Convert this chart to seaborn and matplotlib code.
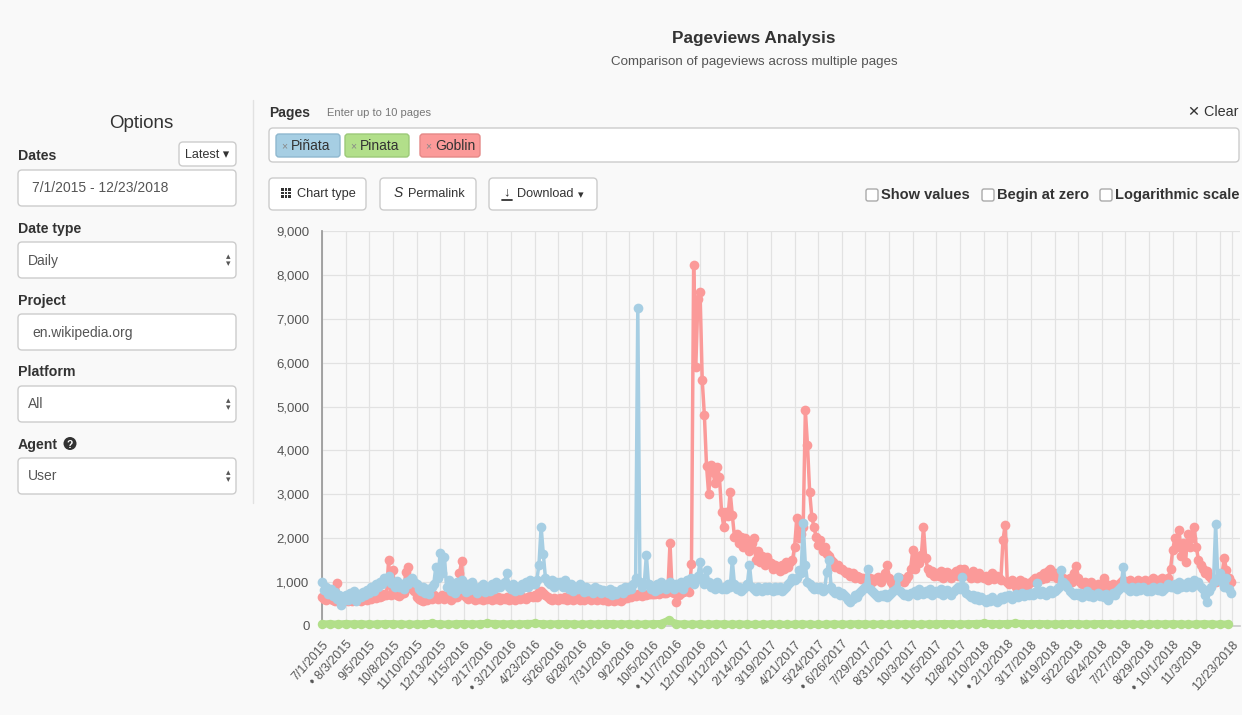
import numpy as np
import pandas as pd
import matplotlib
matplotlib.use("Agg")
import matplotlib.pyplot as plt
import seaborn as sns
from matplotlib.patches import FancyBboxPatch, Rectangle, Circle
from matplotlib.lines import Line2D

# ---------------- data (3-day samples from 7/1/2015) ----------------
start_date = "2015-07-01"

pinata_tilde_views = [
    1000, 820, 900, 720, 850, 680, 780, 620, 700, 480, 560,
    700, 600, 760, 640, 800, 560, 720, 650, 780, 700, 820,
    760, 880, 800, 950, 900, 1000, 950, 1100, 1050, 1150, 980,
    1000, 900, 1020, 880, 950, 850, 1000, 950, 1050, 1090, 1000,
    950, 850, 800, 900, 760, 850, 720, 880, 950, 1350, 1100,
    1660, 1200, 1580, 900, 1050, 800, 950, 750, 1000, 850, 1050,
    900, 780, 950, 820, 1000, 850, 750, 900, 820, 950, 780,
    900, 800, 950, 850, 1000, 900, 880, 950, 1000, 1210, 900,
    850, 950, 800, 900, 820, 950, 880, 1000, 900, 1050, 950,
    950, 1050, 1400, 2260, 1650, 1100, 1000, 950, 1050, 900, 1000,
    950, 1000, 880, 1050, 900, 850, 950, 800, 900, 850, 950,
    850, 780, 900, 800, 850, 750, 880, 800, 850, 760, 820,
    800, 750, 850, 700, 800, 720, 780, 850, 750, 900, 820,
    900, 850, 950, 1100, 7250, 1000, 900, 950, 1620, 950, 850,
    900, 800, 950, 850, 1000, 900, 850, 950, 1000, 900, 850,
    950, 900, 1000, 850, 950, 1050, 1000, 1100, 950, 1050, 1150,
    1460, 1100, 950, 1280, 1000, 900, 950, 850, 1000, 900, 850,
    900, 850, 950, 880, 1500, 950, 850, 900, 800, 850, 900,
    950, 1390, 900, 850, 800, 900, 850, 800, 880, 820, 900,
    850, 800, 900, 820, 880, 800, 850, 900, 950, 1000, 1100,
    1050, 1100, 1280, 1200, 2340, 1390, 1000, 950, 900, 850, 900,
    850, 900, 800, 850, 1240, 1500, 900, 800, 750, 800, 700,
    750, 700, 650, 600, 550, 620, 700, 650, 750, 800, 850,
    900, 1310, 850, 800, 750, 700, 650, 700, 680, 720, 650,
    700, 750, 800, 850, 1120, 800, 750, 700, 720, 680, 750,
    750, 800, 700, 850, 780, 720, 800, 750, 850, 700, 780,
    800, 750, 850, 700, 780, 820, 750, 700, 800, 850, 900,
    850, 1120, 900, 750, 700, 650, 700, 620, 680, 600, 650,
    600, 550, 620, 580, 650, 600, 550, 600, 650, 620, 680,
    650, 700, 620, 680, 720, 650, 700, 750, 680, 720, 700,
    750, 700, 780, 980, 720, 800, 750, 700, 780, 820, 750,
    800, 850, 900, 1280, 1000, 950, 880, 800, 750, 700, 750,
    700, 750, 650, 700, 800, 680, 720, 650, 700, 750, 680,
    700, 650, 720, 600, 680, 750, 700, 800, 850, 900, 1350,
    900, 850, 800, 900, 850, 800, 880, 820, 900, 850, 800,
    850, 800, 900, 850, 820, 880, 800, 850, 900, 950, 880,
    900, 950, 850, 1000, 900, 950, 880, 1000, 950, 900, 1050,
    950, 1000, 900, 850, 700, 550, 800, 900, 1000, 2320, 1100,
    1200, 1000, 900, 1100, 850, 750,
]

goblin_views = [
    650, 620, 600, 640, 620, 600, 580, 980, 620, 560, 600,
    600, 560, 620, 580, 640, 600, 620, 580, 650, 620, 600,
    650, 620, 680, 640, 700, 650, 680, 720, 700, 1500, 700,
    1280, 750, 700, 680, 720, 750, 1240, 1350, 900, 850, 800,
    650, 620, 600, 580, 640, 600, 650, 620, 700, 650, 620,
    650, 700, 620, 680, 650, 600, 700, 650, 650, 1200, 1480,
    700, 650, 620, 680, 640, 600, 660, 620, 650, 600, 640,
    620, 650, 600, 640, 620, 660, 600, 640, 620, 650, 600,
    620, 650, 600, 640, 620, 660, 640, 620, 650, 680, 650,
    700, 650, 780, 800, 750, 700, 650, 620, 600, 640, 620,
    600, 640, 620, 650, 600, 620, 640, 600, 620, 650, 600,
    620, 600, 650, 630, 600, 640, 620, 600, 650, 620, 600,
    600, 580, 620, 600, 580, 620, 600, 580, 620, 650, 640,
    680, 650, 700, 680, 720, 700, 680, 720, 700, 740, 720,
    740, 720, 760, 740, 780, 750, 760, 800, 1890, 780, 750,
    550, 700, 750, 780, 800, 820, 780, 1410, 8220, 5900, 7450,
    7600, 5600, 4800, 3650, 3000, 3670, 3500, 3250, 3630, 3400, 2600,
    2260, 2600, 2500, 3060, 2530, 2030, 2100, 1900, 2030, 1800, 2000,
    1800, 1700, 1900, 2000, 1500, 1700, 1450, 1600, 1400, 1580, 1450,
    1430, 1300, 1400, 1350, 1250, 1400, 1300, 1450, 1350, 1460, 1500,
    1800, 2450, 2000, 2100, 2260, 4920, 4120, 3060, 2490, 2260, 2030,
    1850, 1950, 1700, 1800, 1650, 1600, 1500, 1450, 1350, 1400, 1300,
    1300, 1250, 1200, 1240, 1150, 1200, 1100, 1150, 1120, 1080, 1100,
    1080, 1050, 1100, 1000, 1080, 1050, 1120, 1000, 1100, 1200, 1390,
    1100, 1000, 930, 1050, 1000, 1100, 1050, 1000, 1080, 1150, 1300,
    1730, 1300, 1580, 1430, 1620, 2260, 1540, 1300, 1200, 1250, 1150,
    1200, 1150, 1250, 1100, 1200, 1240, 1150, 1100, 1200, 1250, 1150,
    1300, 1250, 1310, 1200, 1150, 1100, 1250, 1150, 1100, 1200, 1150,
    1100, 1150, 1050, 1100, 1200, 1080, 1150, 1100, 1050, 1960, 2300,
    1000, 950, 1050, 1000, 900, 980, 1050, 950, 1000, 920, 980,
    1000, 1050, 1100, 1000, 1150, 1080, 1200, 1100, 1250, 1310, 1150,
    1200, 1100, 1150, 1050, 1100, 1000, 1050, 1100, 1000, 1200, 1370,
    1100, 1000, 950, 1000, 900, 950, 1000, 900, 850, 950, 900,
    900, 1090, 950, 900, 850, 950, 900, 880, 950, 1000, 1050,
    1000, 950, 1050, 1000, 950, 1000, 1050, 1000, 950, 1050, 1000,
    1000, 1050, 1100, 1000, 1050, 1000, 1100, 1050, 1000, 1100, 1300,
    1730, 2000, 1800, 2190, 1600, 1900, 1460, 2100, 1800, 2000, 2260,
    1800, 1500, 1400, 1300, 1200, 1250, 1150, 1100, 1050, 1000, 1100,
    1100, 1200, 1540, 1280, 1100, 1000,
]

# "Pinata" (no tilde), sampled every 11 days
pinata_plain_views = [
    45, 50, 40, 55, 45, 50, 40, 45, 55, 50, 45, 40,
    45, 50, 60, 45, 40, 50, 55, 45, 50, 60, 55, 45,
    50, 45, 55, 60, 50, 45, 50, 55, 45, 40, 50, 45,
    55, 50, 45, 50, 40, 45, 50, 55, 130, 50, 45, 40,
    45, 40, 50, 45, 40, 45, 40, 35, 40, 45, 40, 35,
    40, 45, 40, 35, 40, 45, 40, 45, 50, 45, 40, 45,
    40, 45, 50, 45, 40, 45, 50, 55, 50, 45, 50, 55,
    60, 55, 50, 55, 60, 55, 50, 55, 50, 45, 50, 55,
    50, 45, 50, 55, 50, 45, 50, 45, 40, 45, 50, 45,
    50, 45, 40, 45, 50, 45, 40, 45,
]

page_names = ["Piñata", "Pinata", "Goblin"]

x_tick_labels = [
    "7/1/2015", "• 8/3/2015", "9/5/2015", "10/8/2015", "11/10/2015", "12/13/2015",
    "1/15/2016", "2/17/2016", "• 3/21/2016", "4/23/2016", "5/26/2016", "6/28/2016",
    "7/31/2016", "9/2/2016", "10/5/2016", "• 11/7/2016", "12/10/2016", "1/12/2017",
    "2/14/2017", "3/19/2017", "4/21/2017", "5/24/2017", "• 6/26/2017", "7/29/2017",
    "8/31/2017", "10/3/2017", "11/5/2017", "12/8/2017", "1/10/2018", "• 2/12/2018",
    "3/17/2018", "4/19/2018", "5/22/2018", "6/24/2018", "7/27/2018", "8/29/2018",
    "• 10/1/2018", "11/3/2018", "12/23/2018",
]
y_ticks = [0, 1000, 2000, 3000, 4000, 5000, 6000, 7000, 8000, 9000]

# ---------------- style ----------------
W, H = 1242, 715
BG = "#f9f9f9"
BLUE = "#a6cee3"
GREEN = "#b2df8a"
RED = "#fb9a99"
TXT = "#333333"

sns.set_theme(style="white")
plt.rcParams["font.family"] = ["Liberation Sans", "DejaVu Sans"]

fig = plt.figure(figsize=(W / 100, H / 100), dpi=100, facecolor=BG)
T = fig.dpi_scale_trans  # inches; 1 px = 0.01 in


def P(x, y):
    return (x / 100.0, (H - y) / 100.0)


def text(x, y, s, **kw):
    kw.setdefault("color", TXT)
    kw.setdefault("va", "center")
    kw.setdefault("ha", "left")
    fig.text(x / W, 1 - (y + 1.5) / H, s, **kw)


def rbox(x0, y0, x1, y1, fc="white", ec="#cccccc", r=4, lw=1.0):
    p = FancyBboxPatch(P(x0, y1), (x1 - x0) / 100.0, (y1 - y0) / 100.0,
                       boxstyle=f"round,pad=0,rounding_size={r/100.0}",
                       transform=T, fc=fc, ec=ec, lw=lw)
    fig.patches.append(p)


def hline(x0, x1, y, color="#dddddd", lw=1.0):
    fig.lines.append(Line2D([x0 / 100, x1 / 100], [(H - y) / 100] * 2, transform=T, color=color, lw=lw))


def vline(x, y0, y1, color="#dddddd", lw=1.0):
    fig.lines.append(Line2D([x / 100] * 2, [(H - y0) / 100, (H - y1) / 100], transform=T, color=color, lw=lw))


# ---------------- header ----------------
text(754, 37, "Pageviews Analysis", ha="center", fontsize=12.4, weight="bold")
text(754, 61, "Comparison of pageviews across multiple pages", ha="center", fontsize=9.6, color="#555555")

# ---------------- left options panel ----------------
text(141, 122, "Options", ha="center", fontsize=13.5)
labels_y = [("Dates", 155), ("Date type", 227), ("Project", 299), ("Platform", 371), ("Agent", 443)]
for s, y in labels_y:
    text(18, y, s, fontsize=10.2, weight="bold")
# help icon next to Agent
fig.patches.append(Circle(P(70, 443.5), 0.065, transform=T, fc="#333333", ec="none"))
text(70, 443, "?", ha="center", fontsize=7.5, weight="bold", color="white")

rbox(179, 142, 236, 166)
text(207, 153, "Latest ▾", ha="center", fontsize=9)

inputs = [(170, "7/1/2015 - 12/23/2018", False, 32),
          (242, "Daily", True, 28),
          (314, "en.wikipedia.org", False, 32),
          (386, "All", True, 28),
          (458, "User", True, 28)]
for y0, s, sel, tx in inputs:
    rbox(18, y0, 236, y0 + 36)
    text(tx, y0 + 17, s, fontsize=10, color="#555555")
    if sel:
        text(228, y0 + 16.5, "▴\n▾", ha="center", fontsize=6.5, color="#555555", linespacing=0.75)

vline(253, 100, 503, color="#e2e2e2")

# ---------------- pages selector ----------------
text(269, 111, "Pages", fontsize=10, weight="bold")
text(327, 112, "Enter up to 10 pages", fontsize=8, color="#777777")
text(1239, 111, "✕ Clear", ha="right", fontsize=10.4)
rbox(269, 128, 1239, 162)
tag_specs = [(276, 340, BLUE, "#8fb8cf"), (345, 409, GREEN, "#9cc978"), (420, 480, RED, "#e58887")]
for (x0, x1, fc, ec), name in zip(tag_specs, page_names):
    rbox(x0, 134, x1, 157, fc=fc, ec=ec, r=3)
    text(x0 + 5, 144.5, "×", fontsize=7.5, color="#888888")
    text(x0 + 15, 144.5, name, fontsize=10, color="#333333")

# ---------------- buttons ----------------
rbox(269, 178, 366, 210)
for i in range(3):
    for j in range(3):
        fig.patches.append(Rectangle(P(281 + 3.6 * i, 198 - 3.6 * j), 0.026, 0.026, transform=T, fc="#333333", ec="none"))
text(297, 192.5, "Chart type", fontsize=9.2)
rbox(380, 178, 476, 210)
text(398, 191.5, "S", ha="center", fontsize=10, style="italic", color="#333333")
text(408, 192.5, "Permalink", fontsize=9.2)
rbox(489, 178, 597, 210)
text(507, 190.5, "↓", ha="center", fontsize=9.5, weight="bold")
hline(502, 512, 199.5, color="#333333", lw=1.3)
text(517, 192.5, "Download", fontsize=9.2)
text(581, 193.5, "▾", ha="center", fontsize=8)

checks = [(866, "Show values"), (982, "Begin at zero"), (1100, "Logarithmic scale")]
for x0, s in checks:
    rbox(x0, 189, x0 + 12, 201, fc="white", ec="#aaaaaa", r=2)
    text(x0 + 15, 193.5, s, fontsize=10.5, weight="bold")

# ---------------- chart ----------------
ax_left, ax_right, ax_top, ax_bottom = 322, 1240, 231, 626
ax = fig.add_axes([ax_left / W, 1 - ax_bottom / H, (ax_right - ax_left) / W, (ax_bottom - ax_top) / H])
ax.set_facecolor("none")

dates3 = pd.date_range(start_date, periods=len(pinata_tilde_views), freq="3D")
dates3b = pd.date_range(start_date, periods=len(goblin_views), freq="3D")
dates11 = pd.date_range(start_date, periods=len(pinata_plain_views), freq="11D")

line_kw = dict(marker="o", markeredgewidth=0, clip_on=False)
sns.lineplot(x=dates3b, y=goblin_views, ax=ax, color=RED, zorder=3,
             markersize=7.0, linewidth=2.5, **line_kw)
sns.lineplot(x=dates11, y=pinata_plain_views, ax=ax, color=GREEN, zorder=4,
             markersize=6.8, linewidth=5.2, **line_kw)
sns.lineplot(x=dates3, y=pinata_tilde_views, ax=ax, color=BLUE, zorder=5,
             markersize=7.0, linewidth=2.5, **line_kw)

tick_dates = [pd.Timestamp(pd.to_datetime(s.replace("• ", ""), format="%m/%d/%Y")) for s in x_tick_labels]
extra_grid = pd.Timestamp("2018-12-06")
ax.set_xlim(pd.Timestamp(start_date), pd.Timestamp("2018-12-23") + pd.Timedelta(days=11))
ax.set_ylim(0, 9000)
ax.set_xticks(tick_dates)
ax.set_xticklabels(x_tick_labels, rotation=48, ha="right", rotation_mode="anchor",
                   fontsize=8.9, color="#555555")
ax.set_xticks([extra_grid], minor=True)
ax.set_yticks(y_ticks)
ax.set_yticklabels([f"{v:,}" for v in y_ticks], fontsize=9.5, color="#555555")
ax.grid(True, which="both", color="#e2e2e2", linewidth=0.9)
ax.set_axisbelow(True)
ax.tick_params(axis="y", length=5, color="#aaaaaa", pad=4)
ax.tick_params(axis="x", which="both", length=0, pad=9)
for s in ["top", "right"]:
    ax.spines[s].set_visible(False)
ax.spines["left"].set_color("#999999")
ax.spines["bottom"].set_color("#cccccc")
ax.set_xlabel("")
ax.set_ylabel("")
if ax.get_legend():
    ax.get_legend().remove()

fig.savefig("out.png", dpi=100, facecolor=BG)
